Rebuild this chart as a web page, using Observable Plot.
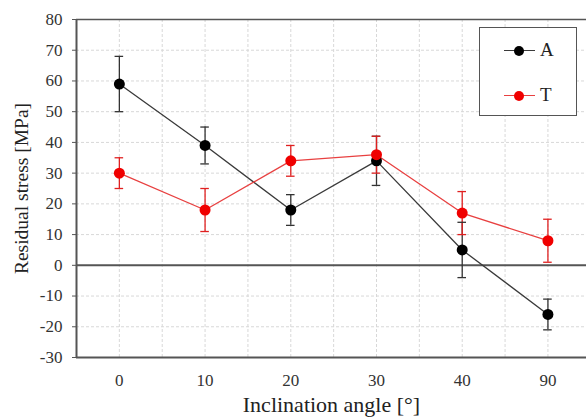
<!DOCTYPE html>
<html>
<head>
<meta charset="utf-8">
<script src="https://cdn.jsdelivr.net/npm/d3@7"></script>
<script src="https://cdn.jsdelivr.net/npm/@observablehq/plot@0.6"></script>
<style>
  html, body { margin: 0; padding: 0; background: #fff; overflow: hidden; }
  #wrap { position: relative; width: 586px; height: 418px; }
  #legend { position: absolute; left: 479px; top: 27px; width: 96px; height: 87px;
    border: 1.5px solid #555; background: #fff; font-family: "Liberation Serif", serif; font-size: 19px; color: #222; }
  .entry { position: absolute; left: 24px; height: 20px; }
  .entry .ln { position: absolute; left: 0; top: 9px; width: 31px; height: 1.3px; }
  .entry .dt { position: absolute; left: 10px; top: 5px; width: 10px; height: 10px; border-radius: 50%; }
  .entry .lb { position: absolute; left: 36px; top: -2px; }
</style>
</head>
<body>
<div id="wrap"></div>
<script>
const angles = ["0", "10", "20", "30", "40", "90"];
const aValues = [59, 39, 18, 34, 5, -16];
const aErrors = [9, 6, 5, 8, 9, 5];
const tValues = [30, 18, 34, 36, 17, 8];
const tErrors = [5, 7, 5, 6, 7, 7];
const yTicks = [-30, -20, -10, 0, 10, 20, 30, 40, 50, 60, 70, 80];

const series = [
  {name: "A", values: aValues, errors: aErrors, line: "#3a3a3a", dot: "#000", bar: "#333"},
  {name: "T", values: tValues, errors: tErrors, line: "#e84040", dot: "#f00000", bar: "#e02020"}
];
const rows = series.flatMap(s => s.values.map((v, i) => ({
  series: s.name, i, v, lo: v - s.errors[i], hi: v + s.errors[i], line: s.line, dot: s.dot, bar: s.bar
})));
const idx = angles.map((_, i) => i);
const halfIdx = angles.slice(0, -1).map((_, i) => i + 0.5);
const capHalf = 0.05;
const serif = "'Liberation Serif', serif";

const chart = Plot.plot({
  width: 586,
  height: 418,
  marginLeft: 76,
  marginRight: 0,
  marginTop: 19,
  marginBottom: 61,
  style: {fontFamily: serif, fontSize: "17px", color: "#333", background: "#fff"},
  x: {domain: [-0.5, 5.45]},
  y: {domain: [-30, 80]},
  marks: [
    Plot.ruleY(yTicks.filter(d => d > -30 && d < 80 && d !== 0), {stroke: "#d8d8d8", strokeDasharray: "3,2", strokeWidth: 1}),
    Plot.ruleX(idx.concat(halfIdx), {stroke: "#d8d8d8", strokeDasharray: "3,2", strokeWidth: 1}),
    Plot.ruleY([0], {stroke: "#555", strokeWidth: 2}),
    Plot.ruleY([80], {stroke: "#555", strokeWidth: 1.5}),
    Plot.ruleY([-30], {stroke: "#555", strokeWidth: 2}),
    Plot.ruleX([-0.5], {stroke: "#555", strokeWidth: 2}),
    Plot.axisY({ticks: yTicks, tickFormat: d => String(d), tickSize: 4, tickPadding: 10, stroke: "#555", fill: "#333",
      label: "Residual stress [MPa]", labelAnchor: "center", labelOffset: 62, labelArrow: "none"}),
    Plot.axisX({ticks: idx, tickFormat: d => angles[d], tickSize: 0, tickPadding: 16, fill: "#333",
      label: "Inclination angle [°]", labelAnchor: "center", labelOffset: 54, labelArrow: "none"}),
    Plot.ruleX(rows, {x: "i", y1: "lo", y2: "hi", stroke: "bar", strokeWidth: 1.3}),
    Plot.ruleY(rows, {y: "lo", x1: d => d.i - capHalf, x2: d => d.i + capHalf, stroke: "bar", strokeWidth: 1.3}),
    Plot.ruleY(rows, {y: "hi", x1: d => d.i - capHalf, x2: d => d.i + capHalf, stroke: "bar", strokeWidth: 1.3}),
    Plot.line(rows, {x: "i", y: "v", z: "series", stroke: "line", strokeWidth: 1.3}),
    Plot.dot(rows, {x: "i", y: "v", r: 5.5, fill: "dot", stroke: "none"})
  ]
});
chart.querySelectorAll("text").forEach(t => {
  t.style.fontFamily = "'Liberation Serif', serif";
  t.style.fontSize = "17px";
  t.style.fontVariant = "normal";
});
chart.querySelectorAll("g").forEach(g => {
  g.removeAttribute("font-family"); g.removeAttribute("font-size");
});
chart.querySelectorAll('[aria-label="y-axis label"] text').forEach(t => {
  t.style.fontSize = "19.5px"; t.setAttribute("fill", "#222");
});
chart.querySelectorAll('[aria-label="x-axis label"] text').forEach(t => {
  t.style.fontSize = "22px"; t.setAttribute("fill", "#222");
});
const wrap = document.getElementById("wrap");
wrap.appendChild(chart);

const legend = document.createElement("div");
legend.id = "legend";
series.forEach((s, k) => {
  const e = document.createElement("div");
  e.className = "entry";
  e.style.top = (13 + k * 45) + "px";
  e.innerHTML = `<div class="ln" style="background:${s.line}"></div><div class="dt" style="background:${s.dot}"></div><div class="lb">${s.name}</div>`;
  legend.appendChild(e);
});
wrap.appendChild(legend);
</script>
</body>
</html>
